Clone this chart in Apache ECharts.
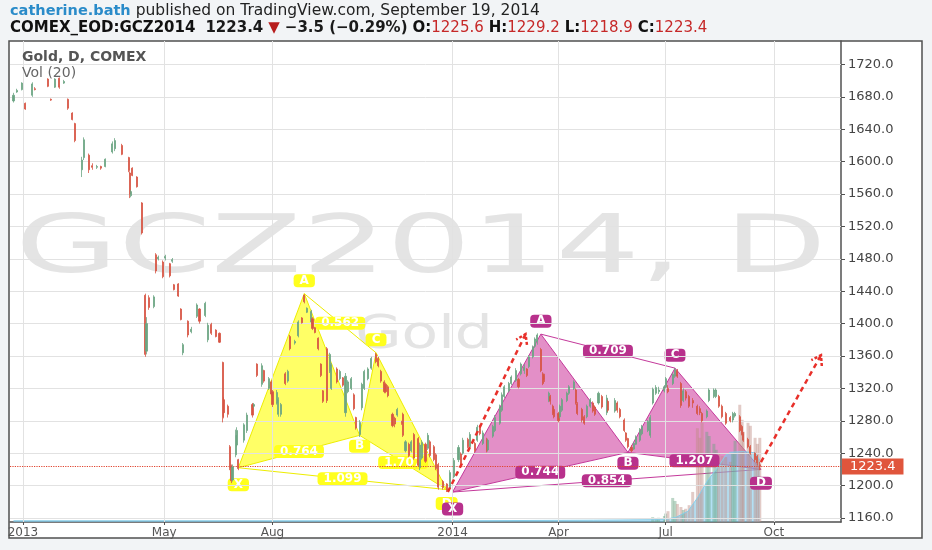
<!DOCTYPE html>
<html>
<head>
<meta charset="utf-8">
<title>GCZ2014 Gold, D, COMEX</title>
<script src="https://cdn.jsdelivr.net/npm/echarts@6/dist/echarts.min.js"></script>
<style>
html, body { margin: 0; padding: 0; background: #f2f4f6; }
#chart { width: 932px; height: 550px; }
</style>
</head>
<body>
<div id="chart"></div>
<script>
// daily bars: [date, open, close, low, high]
var bars = [
    ['2012-12-24',1675,1682,1673,1685],['2012-12-27',1686,1688,1685,1690],['2012-12-31',1689,1697,1688,1698],
    ['2013-01-03',1672,1665,1664,1673],['2013-01-09',1682,1696,1680,1698],['2013-01-11',1690,1689,1688,1692],
    ['2013-01-22',1702,1693,1692,1703],['2013-01-25',1677,1676,1675,1678],['2013-01-28',1692,1702,1691,1703],
    ['2013-02-01',1703,1692,1690,1704],['2013-02-05',1697,1699,1696,1701],['2013-02-08',1677,1666,1664,1678],
    ['2013-02-12',1660,1652,1651,1661],['2013-02-14',1647,1626,1624,1648],['2013-02-20',1590,1602,1581,1606],
    ['2013-02-22',1605,1627,1602,1630],['2013-02-26',1608,1590,1586,1610],['2013-03-01',1595,1593,1590,1598],
    ['2013-03-05',1593,1594,1591,1596],['2013-03-08',1594,1592,1590,1595],['2013-03-12',1594,1603,1593,1604],
    ['2013-03-18',1612,1622,1610,1625],['2013-03-20',1616,1626,1613,1629],['2013-03-26',1620,1609,1608,1622],
    ['2013-04-01',1605,1589,1587,1606],['2013-04-02',1586,1560,1555,1588],['2013-04-03',1558,1563,1556,1565],
    ['2013-04-04',1592,1583,1582,1593],['2013-04-08',1581,1569,1568,1582],['2013-04-12',1549,1512,1510,1550],
    ['2013-04-15',1435,1362,1359,1437],['2013-04-16',1366,1400,1362,1408],['2013-04-18',1432,1420,1417,1435],
    ['2013-04-22',1421,1433,1419,1435],['2013-04-24',1485,1465,1462,1487],['2013-04-26',1480,1482,1478,1484],
    ['2013-04-30',1476,1458,1456,1478],['2013-05-02',1481,1483,1478,1485],['2013-05-06',1474,1459,1457,1475],
    ['2013-05-08',1477,1479,1475,1481],['2013-05-09',1448,1442,1441,1449],['2013-05-13',1449,1434,1433,1450],
    ['2013-05-15',1418,1405,1404,1419],['2013-05-17',1364,1374,1361,1376],['2013-05-21',1403,1386,1383,1404],
    ['2013-05-24',1390,1393,1388,1396],['2013-05-29',1409,1423,1407,1425],['2013-05-31',1418,1403,1400,1419],
    ['2013-06-05',1410,1425,1408,1427],['2013-06-07',1380,1398,1377,1401],['2013-06-10',1399,1388,1386,1401],
    ['2013-06-14',1392,1384,1383,1393],['2013-06-17',1388,1377,1376,1389],['2013-06-20',1352,1285,1278,1353],
    ['2013-06-21',1306,1290,1283,1309],['2013-06-24',1298,1288,1284,1300],['2013-06-26',1248,1222,1219,1250],
    ['2013-06-27',1224,1206,1203,1226],['2013-06-28',1207,1223,1205,1226],['2013-07-01',1238,1262,1235,1269],
    ['2013-07-02',1250,1268,1248,1272],['2013-07-03',1232,1221,1219,1233],['2013-07-08',1256,1275,1253,1277],
    ['2013-07-10',1268,1287,1265,1290],['2013-07-15',1300,1287,1284,1302],['2013-07-16',1298,1300,1296,1302],
    ['2013-07-19',1350,1336,1334,1351],['2013-07-23',1325,1348,1322,1351],['2013-07-25',1342,1329,1327,1343],
    ['2013-07-29',1320,1332,1318,1334],['2013-07-31',1328,1313,1310,1330],['2013-08-01',1316,1300,1297,1318],
    ['2013-08-05',1302,1315,1300,1318],['2013-08-06',1288,1306,1285,1309],['2013-08-08',1288,1300,1285,1302],
    ['2013-08-12',1338,1326,1324,1340],['2013-08-14',1329,1341,1327,1343],['2013-08-16',1384,1369,1367,1386],
    ['2013-08-20',1376,1378,1374,1380],['2013-08-23',1385,1402,1383,1404],['2013-08-26',1407,1401,1400,1408],
    ['2013-08-28',1435,1427,1425,1436],['2013-08-30',1414,1419,1413,1420],['2013-09-03',1402,1415,1400,1417],
    ['2013-09-04',1406,1394,1392,1408],['2013-09-06',1395,1389,1388,1396],['2013-09-09',1382,1369,1367,1383],
    ['2013-09-11',1350,1336,1334,1351],['2013-09-13',1317,1304,1302,1318],['2013-09-16',1369,1305,1302,1371],
    ['2013-09-19',1341,1362,1339,1364],['2013-09-20',1320,1349,1318,1351],['2013-09-25',1344,1328,1326,1346],
    ['2013-09-27',1332,1341,1330,1343],['2013-09-30',1333,1324,1322,1334],['2013-10-02',1290,1335,1285,1339],
    ['2013-10-04',1316,1328,1314,1330],['2013-10-07',1320,1332,1318,1334],['2013-10-09',1312,1295,1293,1314],
    ['2013-10-11',1284,1271,1269,1285],['2013-10-14',1263,1278,1260,1281],['2013-10-16',1296,1325,1293,1327],
    ['2013-10-18',1320,1341,1318,1343],['2013-10-21',1332,1344,1330,1346],['2013-10-24',1345,1357,1343,1359],
    ['2013-10-28',1362,1353,1351,1364],['2013-10-30',1357,1348,1346,1359],['2013-11-01',1341,1329,1327,1343],
    ['2013-11-04',1328,1316,1314,1330],['2013-11-05',1325,1316,1314,1327],['2013-11-07',1322,1311,1309,1324],
    ['2013-11-11',1288,1274,1272,1290],['2013-11-13',1283,1276,1272,1285],['2013-11-15',1287,1294,1285,1296],
    ['2013-11-19',1278,1277,1275,1280],['2013-11-20',1288,1262,1260,1290],['2013-11-22',1243,1254,1241,1256],
    ['2013-11-25',1251,1237,1235,1253],['2013-11-27',1243,1254,1241,1256],['2013-11-29',1263,1234,1232,1265],
    ['2013-12-03',1258,1225,1223,1260],['2013-12-04',1222,1250,1219,1253],['2013-12-06',1234,1253,1232,1256],
    ['2013-12-09',1251,1230,1228,1253],['2013-12-11',1246,1262,1244,1265],['2013-12-13',1254,1237,1235,1256],
    ['2013-12-16',1248,1232,1230,1250],['2013-12-18',1238,1221,1219,1240],['2013-12-20',1226,1198,1195,1228],
    ['2013-12-24',1205,1198,1195,1207],['2013-12-27',1202,1194,1192,1203],['2013-12-30',1197,1216,1195,1219],
    ['2014-01-02',1211,1231,1209,1234],['2014-01-06',1232,1247,1229,1250],['2014-01-08',1239,1228,1225,1241],
    ['2014-01-10',1240,1256,1238,1259],['2014-01-14',1257,1248,1246,1259],['2014-01-16',1248,1263,1246,1266],
    ['2014-01-20',1252,1243,1241,1254],['2014-01-22',1256,1272,1254,1275],['2014-01-24',1273,1264,1262,1275],
    ['2014-01-27',1252,1265,1250,1268],['2014-01-30',1257,1243,1241,1259],['2014-01-31',1244,1256,1242,1258],
    ['2014-02-04',1261,1273,1259,1275],['2014-02-06',1268,1284,1266,1287],['2014-02-10',1277,1297,1275,1300],
    ['2014-02-12',1293,1312,1291,1315],['2014-02-14',1310,1322,1308,1324],['2014-02-18',1317,1326,1315,1328],
    ['2014-02-20',1326,1334,1324,1336],['2014-02-24',1330,1342,1328,1345],['2014-02-26',1331,1322,1320,1333],
    ['2014-02-28',1338,1350,1336,1352],['2014-03-03',1342,1346,1338,1350],['2014-03-05',1344,1336,1334,1345],
    ['2014-03-07',1347,1359,1345,1361],['2014-03-10',1359,1371,1357,1373],['2014-03-12',1372,1381,1370,1383],
    ['2014-03-14',1378,1386,1374,1388],['2014-03-17',1368,1342,1340,1370],['2014-03-19',1338,1326,1324,1340],
    ['2014-03-20',1336,1331,1328,1338],['2014-03-24',1305,1314,1303,1316],['2014-03-25',1310,1304,1300,1312],
    ['2014-03-27',1298,1289,1287,1300],['2014-03-28',1294,1285,1283,1296],['2014-04-01',1289,1280,1278,1291],
    ['2014-04-02',1285,1298,1283,1300],['2014-04-04',1293,1306,1291,1308],['2014-04-08',1305,1314,1303,1316],
    ['2014-04-10',1314,1322,1312,1324],['2014-04-14',1320,1328,1318,1330],['2014-04-16',1318,1302,1300,1320],
    ['2014-04-17',1301,1289,1287,1303],['2014-04-21',1294,1281,1278,1296],['2014-04-23',1285,1277,1275,1287],
    ['2014-04-25',1285,1298,1283,1300],['2014-04-28',1298,1306,1296,1308],['2014-04-30',1302,1292,1290,1304],
    ['2014-05-02',1297,1288,1286,1299],['2014-05-05',1302,1314,1300,1316],['2014-05-08',1310,1297,1295,1312],
    ['2014-05-12',1290,1308,1287,1312],['2014-05-13',1304,1293,1291,1306],['2014-05-19',1292,1305,1290,1308],
    ['2014-05-21',1302,1293,1290,1304],['2014-05-23',1294,1285,1283,1296],['2014-05-27',1281,1268,1266,1283],
    ['2014-05-28',1265,1256,1254,1266],['2014-05-30',1258,1248,1246,1259],['2014-06-02',1247,1243,1241,1250],
    ['2014-06-04',1245,1252,1244,1254],['2014-06-06',1251,1260,1250,1262],['2014-06-09',1256,1268,1254,1271],
    ['2014-06-11',1264,1273,1262,1275],['2014-06-16',1268,1279,1266,1281],['2014-06-18',1262,1284,1259,1287],
    ['2014-06-20',1302,1319,1300,1321],['2014-06-23',1314,1321,1312,1324],['2014-06-25',1316,1318,1313,1322],
    ['2014-06-30',1317,1322,1315,1324],['2014-07-01',1322,1332,1320,1334],['2014-07-03',1320,1316,1314,1324],
    ['2014-07-07',1326,1337,1324,1339],['2014-07-09',1335,1343,1333,1345],['2014-07-11',1342,1335,1333,1344],
    ['2014-07-14',1326,1299,1296,1328],['2014-07-16',1305,1317,1303,1320],['2014-07-18',1316,1308,1305,1318],
    ['2014-07-21',1310,1298,1296,1312],['2014-07-24',1305,1302,1296,1308],['2014-07-28',1298,1289,1287,1300],
    ['2014-07-30',1295,1290,1287,1298],['2014-08-01',1289,1280,1278,1291],['2014-08-05',1285,1292,1283,1294],
    ['2014-08-07',1305,1318,1303,1320],['2014-08-11',1310,1318,1308,1320],['2014-08-13',1310,1318,1308,1320],
    ['2014-08-15',1310,1298,1296,1312],['2014-08-18',1298,1285,1283,1300],['2014-08-21',1289,1277,1275,1291],
    ['2014-08-25',1284,1280,1278,1286],['2014-08-27',1281,1289,1278,1291],['2014-08-29',1286,1289,1284,1291],
    ['2014-09-02',1285,1268,1266,1287],['2014-09-04',1273,1264,1262,1275],['2014-09-05',1264,1256,1254,1266],
    ['2014-09-09',1257,1248,1246,1259],['2014-09-11',1248,1240,1238,1250],['2014-09-15',1240,1232,1229,1241],
    ['2014-09-17',1236,1228,1225,1238],['2014-09-19',1225.6,1223.4,1218.9,1229.2]
];

// volume (thousand contracts): [date, volume, 1 up / -1 down]
var volumes = [
    ['2014-06-20',8,1],['2014-06-23',6,1],['2014-06-25',7,1],['2014-06-30',10,1],['2014-07-01',14,1],
    ['2014-07-03',18,-1],['2014-07-07',40,1],['2014-07-09',35,1],['2014-07-11',30,-1],['2014-07-14',25,-1],
    ['2014-07-16',20,1],['2014-07-18',22,-1],['2014-07-21',28,-1],['2014-07-24',50,-1],['2014-07-28',156,-1],
    ['2014-07-30',140,-1],['2014-08-01',165,-1],['2014-08-05',150,1],['2014-08-07',143,1],['2014-08-11',130,1],
    ['2014-08-13',120,1],['2014-08-15',115,-1],['2014-08-18',110,-1],['2014-08-21',108,-1],['2014-08-25',100,-1],
    ['2014-08-27',115,1],['2014-08-29',135,1],['2014-09-02',195,-1],['2014-09-04',170,-1],['2014-09-05',150,-1],
    ['2014-09-09',165,-1],['2014-09-11',160,-1],['2014-09-15',140,-1],['2014-09-17',130,-1],['2014-09-19',140,-1]
];
// Vol (20) average
var volumeAvg = [
    ['2012-12-24',2],['2013-06-20',2],['2014-01-02',2],['2014-05-01',3],['2014-06-30',4],['2014-07-10',8],
    ['2014-07-20',18],['2014-07-28',40],['2014-08-06',70],['2014-08-14',90],['2014-08-21',111],
    ['2014-08-25',116],['2014-09-05',117],['2014-09-15',115],['2014-09-19',103]
];

var xTickDates = ['2013-01-01','2013-05-01','2013-08-01','2014-01-01','2014-04-01','2014-07-01','2014-10-01'];
var xTickLabels = ['2013','May','Aug','2014','Apr','Jul','Oct'];
var yTicks = [1160,1200,1240,1280,1320,1360,1400,1440,1480,1520,1560,1600,1640,1680,1720];

// harmonic patterns, points X, A, B, C, D
var pointNames = ['X','A','B','C','D'];
var yellowPoints = [['2013-07-03',1222],['2013-08-28',1437],['2013-10-14',1262],['2013-10-28',1364],['2013-12-27',1195]];
var yellowRatios = ['0.562','0.764','1.099','1.707'];   // AC, XB, XD, BD
var pinkPoints = [['2014-01-01',1192],['2014-03-17',1387],['2014-05-30',1241],['2014-07-09',1345],['2014-09-20',1220]];
var pinkRatios = ['0.709','0.744','0.854','1.207'];
var ratioPairs = [[1,3],[0,2],[0,4],[2,4]];

// red dashed forecast arrows [from, to]
var arrows = [
    [['2013-12-28',1192],['2014-03-04',1387]],
    [['2014-09-20',1229],['2014-11-10',1361]]
];

var lastPrice = 1223.4;

var FONT = '"DejaVu Sans", Verdana, sans-serif';
var UP = '#6ba583', DOWN = '#d75442';

function ts(s) {
    var p = s.split('-');
    return new Date(+p[0], +p[1] - 1, +p[2]).getTime();
}
function toPx(api, p) {
    return api.coord([ts(p[0]), p[1]]);
}

var patterns = [
    {points: yellowPoints, ratios: yellowRatios, fill: 'rgba(255,255,0,0.6)', line: '#eded00', box: '#ffff1e'},
    {points: pinkPoints, ratios: pinkRatios, fill: 'rgba(204,51,153,0.55)', line: '#c4399b', box: '#b8318c'}
];
var letterOffset = {X: 17, A: -13, B: 11, C: -13, D: 14};

function renderPattern(params, api) {
    var pt = patterns[params.seriesIndex === 2 ? 0 : 1];
    var px = pt.points.map(function (p) { return toPx(api, p); });
    var lineStyle = {stroke: pt.line, lineWidth: 1, fill: null};
    return {
        type: 'group',
        children: [
            {type: 'polygon', shape: {points: [px[0], px[1], px[2]]}, style: {fill: pt.fill, stroke: pt.line, lineWidth: 1}},
            {type: 'polygon', shape: {points: [px[2], px[3], px[4]]}, style: {fill: pt.fill, stroke: pt.line, lineWidth: 1}},
            {type: 'line', shape: {x1: px[1][0], y1: px[1][1], x2: px[3][0], y2: px[3][1]}, style: lineStyle},
            {type: 'line', shape: {x1: px[0][0], y1: px[0][1], x2: px[4][0], y2: px[4][1]}, style: lineStyle}
        ]
    };
}

function boxText(text, x, y, color) {
    return {
        type: 'text', x: x, y: y,
        style: {
            text: text, fill: '#fff', font: 'bold 12px ' + FONT,
            align: 'center', verticalAlign: 'middle',
            backgroundColor: color, padding: [1, 6, 0, 6], borderRadius: 4
        }
    };
}

function renderLabels(params, api) {
    var pt = patterns[params.seriesIndex === 4 ? 0 : 1];
    var px = pt.points.map(function (p) { return toPx(api, p); });
    var children = [];
    ratioPairs.forEach(function (pair, i) {
        var a = px[pair[0]], b = px[pair[1]];
        children.push(boxText(pt.ratios[i], (a[0] + b[0]) / 2, (a[1] + b[1]) / 2, pt.box));
    });
    pointNames.forEach(function (name, i) {
        children.push(boxText(name, px[i][0], px[i][1] + letterOffset[name], pt.box));
    });
    return {type: 'group', children: children};
}

function renderArrow(params, api) {
    var a = arrows[params.dataIndex];
    var p0 = toPx(api, a[0]), p1 = toPx(api, a[1]);
    var dx = p1[0] - p0[0], dy = p1[1] - p0[1];
    var len = Math.sqrt(dx * dx + dy * dy);
    var ux = dx / len, uy = dy / len;
    var head = [
        [p1[0] - 9 * ux - 6 * uy, p1[1] - 9 * uy + 6 * ux],
        [p1[0], p1[1]],
        [p1[0] - 9 * ux + 6 * uy, p1[1] - 9 * uy - 6 * ux]
    ];
    return {
        type: 'group',
        children: [
            {type: 'line', shape: {x1: p0[0], y1: p0[1], x2: p1[0], y2: p1[1]},
                style: {stroke: '#e8302a', lineWidth: 2.5, lineDash: [5, 4]}},
            {type: 'polyline', shape: {points: head},
                style: {stroke: '#e8302a', lineWidth: 2.5, lineDash: [3, 2], fill: null}}
        ]
    };
}

var xTickTs = xTickDates.map(ts);

var chart = echarts.init(document.getElementById('chart'));
chart.setOption({
    animation: false,
    backgroundColor: '#f2f4f6',
    title: [
        {
            left: 10, top: 2, padding: 0,
            text: '{a|catherine.bath} {b|published on TradingView.com, September 19, 2014}',
            textStyle: {
                rich: {
                    a: {color: '#2a8bc9', fontWeight: 'bold', fontSize: 14.5, fontFamily: FONT, lineHeight: 18},
                    b: {color: '#222', fontWeight: 'normal', fontSize: 15.5, fontFamily: FONT, lineHeight: 18}
                }
            }
        },
        {
            left: 10, top: 19, padding: 0,
            text: '{k|COMEX_EOD:GCZ2014}  {v|' + lastPrice.toFixed(1) + '} {r|▼} {v|−3.5 (−0.29%)} ' +
                '{k|O:}{p|1225.6} {k|H:}{p|1229.2} {k|L:}{p|1218.9} {k|C:}{p|' + lastPrice.toFixed(1) + '}',
            textStyle: {
                rich: {
                    k: {color: '#111', fontWeight: 'bold', fontSize: 15, fontFamily: FONT, lineHeight: 18},
                    v: {color: '#1a1a1a', fontWeight: 'bold', fontSize: 15, fontFamily: FONT, lineHeight: 18},
                    r: {color: '#b71c1c', fontWeight: 'normal', fontSize: 15, fontFamily: FONT, lineHeight: 18},
                    p: {color: '#c62828', fontWeight: 'normal', fontSize: 15, fontFamily: FONT, lineHeight: 18}
                }
            }
        }
    ],
    graphic: [
        {type: 'rect', z: -10, silent: true, shape: {x: 9, y: 41, width: 913, height: 497},
            style: {fill: '#fff', stroke: '#505050', lineWidth: 1.5}},
        {type: 'text', z: 0, silent: true, x: 421, y: 251, scaleX: 1.66,
            style: {text: 'GCZ2014, D', font: '80px ' + FONT, fill: '#e4e4e4', align: 'center', verticalAlign: 'middle'}},
        {type: 'text', z: 0, silent: true, x: 424, y: 336, scaleX: 1.3,
            style: {text: 'Gold', font: '46px ' + FONT, fill: '#e4e4e4', align: 'center', verticalAlign: 'middle'}},
        {type: 'text', z: 20, silent: true, x: 22, y: 57,
            style: {text: 'Gold, D, COMEX', font: 'bold 14px ' + FONT, fill: '#555', verticalAlign: 'middle'}},
        {type: 'text', z: 20, silent: true, x: 22, y: 73,
            style: {text: 'Vol (20)', font: '14px ' + FONT, fill: '#666', verticalAlign: 'middle'}}
    ],
    grid: {left: 10, right: 91, top: 41, bottom: 28, containLabel: false, outerBoundsMode: 'none'},
    xAxis: {
        // dates as timestamps on a value axis so the irregular month ticks can be given directly
        type: 'value',
        min: ts('2012-12-21'),
        max: ts('2014-11-27'),
        axisLine: {lineStyle: {color: '#505050', width: 1.5}},
        axisTick: {show: true, customValues: xTickTs, length: 3, lineStyle: {color: '#505050'}},
        axisLabel: {
            customValues: xTickTs,
            color: '#555', fontSize: 12, fontFamily: FONT, margin: 5,
            formatter: function (v) {
                var i = xTickTs.indexOf(v);
                return i >= 0 ? xTickLabels[i] : '';
            }
        },
        splitLine: {show: false}
    },
    yAxis: [
        {
            type: 'value', position: 'right', min: 1155, max: 1749,
            axisLine: {show: true, lineStyle: {color: '#505050', width: 1.5}},
            axisTick: {show: true, customValues: yTicks, length: 4, lineStyle: {color: '#505050'}},
            axisLabel: {
                customValues: yTicks, color: '#444', fontSize: 13, fontFamily: FONT, margin: 7,
                formatter: function (v) { return v.toFixed(1); }
            },
            splitLine: {show: false}
        },
        {type: 'value', min: 0, max: 800, show: false}
    ],
    series: [
        {   // grid lines
            type: 'line', data: [], z: 1, silent: true,
            markLine: {
                silent: true, symbol: ['none', 'none'], label: {show: false},
                lineStyle: {color: '#e2e2e2', width: 1, type: 'solid'},
                data: yTicks.map(function (v) { return {yAxis: v}; })
                    .concat(xTickTs.map(function (t) { return {xAxis: t}; }))
            }
        },
        {   // volume
            type: 'bar', yAxisIndex: 1, z: 3, barWidth: 3, silent: true,
            data: volumes.map(function (v) {
                return {
                    value: [ts(v[0]), v[1]],
                    itemStyle: {color: v[2] > 0 ? 'rgba(107,165,131,0.45)' : 'rgba(190,140,130,0.45)'}
                };
            })
        },
        {   // yellow pattern
            type: 'custom', z: 2, silent: true, renderItem: renderPattern,
            data: [[ts(yellowPoints[0][0]), yellowPoints[0][1]]]
        },
        {   // pink pattern
            type: 'custom', z: 2, silent: true, renderItem: renderPattern,
            data: [[ts(pinkPoints[0][0]), pinkPoints[0][1]]]
        },
        {   // yellow labels
            type: 'custom', z: 4, silent: true, renderItem: renderLabels,
            data: [[ts(yellowPoints[0][0]), yellowPoints[0][1]]]
        },
        {   // pink labels
            type: 'custom', z: 4, silent: true, renderItem: renderLabels,
            data: [[ts(pinkPoints[0][0]), pinkPoints[0][1]]]
        },
        {   // volume average area
            type: 'line', yAxisIndex: 1, z: 3, silent: true, symbol: 'none',
            data: volumeAvg.map(function (v) { return [ts(v[0]), v[1]]; }),
            lineStyle: {width: 1, color: '#86cde9'},
            areaStyle: {color: 'rgba(120,200,236,0.8)'}
        },
        {
            type: 'candlestick', z: 5, barWidth: 1.6, silent: true,
            data: bars.map(function (b) { return [ts(b[0]), b[1], b[2], b[3], b[4]]; }),
            encode: {x: 0, y: [1, 2, 3, 4]},
            itemStyle: {color: UP, color0: DOWN, borderColor: UP, borderColor0: DOWN, borderWidth: 0.8},
            markLine: {
                silent: true, symbol: ['none', 'none'],
                lineStyle: {type: 'dotted', color: '#e0442f', width: 1.2},
                label: {
                    show: true, position: 'end', distance: 1,
                    formatter: lastPrice.toFixed(1),
                    color: '#fff', backgroundColor: '#e0553c', padding: [2, 8, 1, 8],
                    fontSize: 13, fontFamily: FONT
                },
                data: [{yAxis: lastPrice}]
            }
        },
        {   // forecast arrows
            type: 'custom', z: 6, silent: true, renderItem: renderArrow,
            data: arrows.map(function (a) { return [ts(a[0][0]), a[0][1]]; })
        }
    ]
});
</script>
</body>
</html>
